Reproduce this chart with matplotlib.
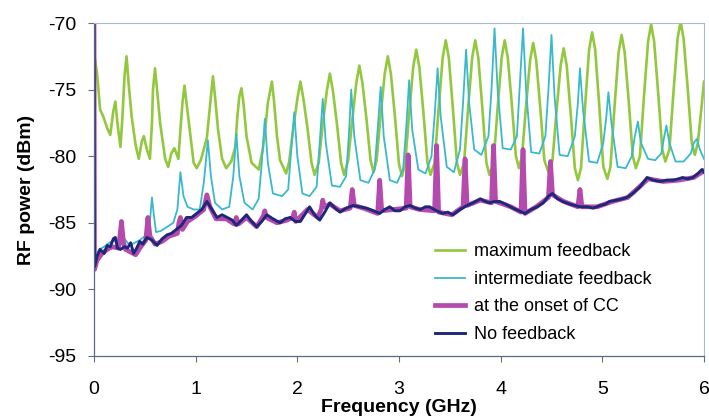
import matplotlib
matplotlib.use("Agg")
import matplotlib.pyplot as plt

plt.rcParams['font.family'] = ['Liberation Sans', 'DejaVu Sans']
plt.rcParams['axes.unicode_minus'] = False

# RF spectra (frequency in GHz, power in dBm)
max_f = [0.00, 0.03, 0.06, 0.09, 0.13, 0.16, 0.19, 0.21, 0.23, 0.26, 0.28, 0.30, 0.32, 0.34, 0.37,
         0.41, 0.44, 0.47, 0.49, 0.52, 0.55, 0.57, 0.58, 0.60, 0.62, 0.65, 0.70, 0.73, 0.76, 0.79,
         0.83, 0.85, 0.87, 0.89, 0.91, 0.94, 0.98, 1.01, 1.05, 1.09, 1.11, 1.14, 1.17, 1.19, 1.22,
         1.26, 1.30, 1.35, 1.39, 1.41, 1.43, 1.45, 1.47, 1.50, 1.55, 1.62, 1.66, 1.68, 1.71, 1.75,
         1.77, 1.80, 1.83,
         1.89, 1.92, 1.96, 2.00, 2.03, 2.06, 2.10, 2.14, 2.17, 2.21, 2.25, 2.29, 2.32, 2.35, 2.39,
         2.43, 2.46, 2.50, 2.54, 2.58, 2.61, 2.64, 2.68, 2.72, 2.75, 2.78, 2.82, 2.86, 2.89, 2.92,
         2.96, 3.00, 3.03, 3.06, 3.10, 3.14, 3.17, 3.20, 3.24, 3.28, 3.31, 3.35, 3.39, 3.43, 3.46,
         3.49, 3.53, 3.57, 3.60, 3.64, 3.68, 3.72, 3.75, 3.78, 3.82, 3.86, 3.89, 3.93, 3.97, 4.01,
         4.04, 4.07, 4.11, 4.15, 4.18, 4.21, 4.25, 4.29, 4.32, 4.35, 4.39, 4.43, 4.47, 4.51, 4.55,
         4.59, 4.62, 4.65, 4.69, 4.73, 4.76, 4.79, 4.83, 4.87, 4.90, 4.93, 4.97, 5.01, 5.05, 5.08,
         5.12, 5.16, 5.19, 5.22, 5.26, 5.30, 5.33, 5.37, 5.41, 5.45, 5.48, 5.51, 5.55, 5.59, 5.62,
         5.66, 5.70, 5.74, 5.77, 5.80, 5.84, 5.88, 5.91, 5.94, 5.98, 6.00]
max_db = [-72.2, -73.8, -76.5, -77.0, -77.9, -78.4, -76.6, -75.9, -77.5, -79.3, -77.0, -74.0, -72.5, -74.5, -77.0,
          -79.2, -80.2, -78.9, -78.5, -79.5, -80.2, -77.5, -75.0, -73.4, -75.0, -77.5, -80.2, -80.8, -79.8, -79.4,
          -80.2, -78.0, -76.0, -74.7, -76.0, -78.0, -80.5, -80.9, -80.3, -79.2, -78.6, -76.3, -74.0, -75.5, -78.0,
          -80.2, -80.9, -80.4, -79.3, -77.0, -75.5, -74.9, -76.0, -78.5, -80.5, -81.0, -79.5, -78.3, -76.0, -74.4,
          -75.8, -78.5, -80.3,
          -81.3, -80.4, -77.9, -75.7, -74.4, -75.7, -77.9, -80.5, -81.4, -80.5, -77.6, -75.1, -73.8, -75.1, -77.6,
          -80.5, -81.4, -80.3, -77.3, -74.5, -73.2, -74.5, -77.2, -80.3, -81.2, -80.3, -76.9, -73.8, -72.5, -73.8,
          -77.0, -80.6, -81.5, -80.6, -76.8, -73.3, -72.0, -73.3, -76.7, -80.5, -81.4, -80.5, -76.4, -72.6, -71.3,
          -72.6, -76.4, -80.5, -81.4, -80.5, -76.4, -72.6, -71.3, -72.6, -76.4, -80.5, -81.4, -80.5, -76.4, -72.6,
          -71.3, -72.6, -76.1, -80.0, -80.9, -80.0, -76.2, -72.8, -71.5, -72.8, -76.4, -80.3, -81.2, -80.3, -76.6,
          -73.2, -71.9, -73.2, -76.9, -80.9, -81.8, -80.9, -76.3, -72.0, -70.7, -72.0, -76.2, -80.8, -81.7, -80.8,
          -76.3, -72.2, -70.9, -72.2, -75.9, -80.0, -80.9, -80.0, -75.5, -71.4, -70.1, -71.4, -75.3, -79.5, -80.4,
          -79.5, -75.2, -71.2, -69.9, -71.2, -74.9, -79.0, -79.9, -79.0, -76.0, -74.4]

mid_f = [0.00, 0.05, 0.10, 0.15, 0.20, 0.25, 0.30, 0.35, 0.40, 0.45, 0.50, 0.54, 0.56, 0.57, 0.59,
         0.61, 0.66, 0.72, 0.78, 0.82, 0.85, 0.88, 0.92, 0.98, 1.04, 1.08, 1.12, 1.15, 1.19, 1.26,
         1.33, 1.37, 1.40, 1.43, 1.48, 1.56, 1.62, 1.65, 1.68, 1.71, 1.76, 1.85, 1.91, 1.94, 1.97,
         2.00, 2.05, 2.12, 2.19, 2.22, 2.25, 2.28, 2.34, 2.42, 2.48, 2.51, 2.53, 2.56, 2.62, 2.70,
         2.76, 2.79, 2.82, 2.85, 2.91, 2.98, 3.04, 3.07, 3.10, 3.13, 3.19, 3.26, 3.32, 3.35, 3.38,
         3.41, 3.47, 3.54, 3.60, 3.63, 3.66, 3.69, 3.74, 3.81, 3.88, 3.91, 3.94, 3.97, 4.02, 4.10,
         4.16, 4.19, 4.22, 4.25, 4.30, 4.38, 4.44, 4.47, 4.50, 4.53, 4.58, 4.66, 4.73, 4.76, 4.78,
         4.81, 4.87, 4.95, 5.01, 5.04, 5.06, 5.09, 5.15, 5.23, 5.29, 5.32, 5.35, 5.38, 5.45, 5.52,
         5.58, 5.61, 5.63, 5.66, 5.72, 5.80, 5.87, 5.90, 5.93, 5.96, 6.00]
mid_db = [-87.8, -87.0, -86.8, -86.5, -86.3, -86.8, -86.2, -86.7, -86.5, -86.3, -86.0, -85.8, -84.0, -83.1, -84.5,
          -85.7, -85.6, -85.3, -85.0, -84.0, -81.2, -83.0, -83.8, -84.0, -84.0, -82.0, -78.8, -81.5, -83.5, -84.0,
          -83.8, -81.5, -78.3, -81.5, -83.5, -84.0, -83.2, -80.5, -77.2, -80.5, -82.8, -83.0, -82.5, -79.5, -76.7,
          -80.0, -82.8, -83.0, -82.3, -79.0, -75.7, -79.0, -82.2, -82.3, -81.5, -78.0, -75.0, -78.5, -81.8, -82.0,
          -81.0, -78.0, -74.8, -78.5, -81.8, -82.0, -81.0, -78.0, -74.3, -78.0, -81.0, -81.3, -80.0, -77.0, -73.4,
          -77.0, -80.8, -81.2, -79.5, -76.0, -72.0, -76.0, -79.5, -79.9, -78.5, -75.0, -70.4, -75.0, -79.4, -79.5,
          -78.5, -74.5, -70.4, -75.0, -79.7, -79.8, -78.5, -75.0, -70.9, -75.5, -79.9, -80.0, -78.5, -76.0, -73.4,
          -76.5, -80.4, -80.5, -79.0, -77.0, -75.2, -77.5, -80.8, -80.9, -80.0, -78.5, -77.4, -79.0, -80.2, -80.3,
          -79.8, -78.5, -77.7, -79.0, -80.4, -80.4, -79.8, -79.0, -78.7, -79.5, -80.2]

cc_f = [0.00, 0.005, 0.03, 0.08, 0.13, 0.18, 0.24, 0.255, 0.27, 0.29, 0.31, 0.36, 0.41, 0.46, 0.51,
        0.53, 0.55, 0.60, 0.67, 0.74, 0.82, 0.835, 0.85, 0.87, 0.92, 1.00, 1.08, 1.11, 1.14, 1.20,
        1.30, 1.38, 1.40, 1.42, 1.50, 1.60, 1.665, 1.68, 1.695, 1.80, 1.90, 1.955, 1.97, 1.985, 2.10,
        2.20, 2.235, 2.25, 2.265, 2.32, 2.42, 2.52, 2.54, 2.56, 2.65, 2.79, 2.81, 2.83, 2.95, 3.07,
        3.09, 3.11, 3.20, 3.35, 3.37, 3.39, 3.52, 3.63, 3.65, 3.67, 3.80, 3.91, 3.93, 3.95, 4.10,
        4.20, 4.22, 4.24, 4.35, 4.47, 4.49, 4.51, 4.62, 4.76, 4.78, 4.80, 4.95, 5.10, 5.25, 5.38,
        5.45, 5.60, 5.75, 5.90, 6.00]
cc_db = [-70.0, -88.5, -87.8, -87.3, -87.0, -86.8, -86.9, -86.0, -84.9, -86.5, -87.0, -87.2, -87.4, -86.8, -86.3,
         -84.6, -86.0, -86.6, -86.4, -86.0, -85.8, -85.0, -84.6, -85.5, -84.9, -84.5, -84.0, -82.9, -83.8, -84.7,
         -84.7, -85.1, -84.6, -85.1, -84.6, -85.3, -84.5, -84.1, -84.6, -85.0, -84.8, -84.6, -84.2, -84.9, -84.0,
         -84.6, -84.0, -83.3, -83.8, -83.6, -84.1, -83.9, -82.5, -83.7, -83.9, -84.3, -81.8, -84.1, -84.0, -83.9,
         -79.9, -83.8, -84.0, -84.1, -79.2, -84.2, -84.4, -83.8, -80.2, -83.7, -83.3, -83.5, -79.2, -83.4, -83.8,
         -84.2, -79.5, -84.3, -83.8, -83.1, -80.4, -82.9, -83.4, -83.8, -82.5, -83.8, -83.8, -83.4, -83.1, -82.2,
         -81.7, -81.9, -81.8, -81.6, -81.1]

nofb_f = [0.00, 0.005, 0.03, 0.06, 0.10, 0.13, 0.16, 0.19, 0.21, 0.23, 0.26, 0.30, 0.33, 0.36, 0.39,
          0.42, 0.45, 0.48, 0.52, 0.57, 0.62, 0.67, 0.72, 0.76, 0.81, 0.86, 0.91, 0.96, 1.01, 1.06,
          1.11, 1.16, 1.21, 1.26, 1.31, 1.36, 1.40, 1.45, 1.50, 1.55, 1.60, 1.65, 1.70, 1.76, 1.83,
          1.88, 1.93, 1.98, 2.03, 2.08, 2.12, 2.17, 2.22, 2.27, 2.32, 2.37, 2.42, 2.48, 2.55, 2.61,
          2.68, 2.75, 2.81, 2.86, 2.91, 2.96, 3.01, 3.06, 3.11, 3.16, 3.21, 3.26, 3.30, 3.37, 3.43,
          3.48, 3.53, 3.60, 3.67, 3.73, 3.80, 3.85, 3.89, 3.94, 3.99, 4.05, 4.12, 4.18, 4.24, 4.30,
          4.36, 4.42, 4.47, 4.51, 4.56, 4.61, 4.68, 4.73, 4.78, 4.85, 4.91, 4.98, 5.03, 5.07, 5.14,
          5.20, 5.24, 5.30, 5.37, 5.41, 5.44, 5.50, 5.57, 5.63, 5.70, 5.75, 5.79, 5.84, 5.89, 5.94,
          5.98, 6.00]
nofb_db = [-70.0, -88.3, -87.5, -87.0, -87.3, -86.7, -86.8, -86.2, -86.1, -86.9, -87.0, -86.8, -86.9, -86.5, -87.3,
           -86.9, -86.4, -86.6, -86.1, -86.3, -86.7, -86.2, -85.9, -85.8, -85.5, -85.2, -84.6, -84.6, -84.3, -84.0,
           -83.4, -84.0, -84.6, -84.4, -84.6, -84.8, -85.2, -84.8, -84.4, -84.9, -85.3, -84.9, -84.4, -84.7, -85.0,
           -84.7, -84.6, -84.9, -84.9, -84.3, -83.8, -84.4, -84.8, -84.2, -83.5, -83.9, -84.2, -83.9, -83.7, -83.8,
           -83.9, -84.1, -84.3, -84.0, -83.8, -84.1, -84.1, -83.8, -83.7, -83.9, -84.0, -83.8, -83.8, -84.1, -84.3,
           -84.2, -84.4, -84.0, -83.7, -83.5, -83.2, -83.4, -83.5, -83.4, -83.4, -83.6, -83.9, -84.1, -84.3, -84.0,
           -83.8, -83.5, -83.0, -82.8, -83.2, -83.4, -83.6, -83.7, -83.8, -83.8, -83.9, -83.7, -83.6, -83.4, -83.3,
           -83.2, -83.1, -82.8, -82.3, -81.9, -81.6, -81.8, -81.9, -81.8, -81.8, -81.7, -81.6, -81.7, -81.6, -81.3,
           -81.0, -81.2]

labels = ['maximum feedback', 'intermediate feedback', 'at the onset of CC', 'No feedback']
x_ticks = [0, 1, 2, 3, 4, 5, 6]
y_ticks = [-95, -90, -85, -80, -75, -70]

fig = plt.figure(figsize=(7.09, 4.19), dpi=100)
ax = fig.add_axes([0.1326, 0.1504, 0.8603, 0.7947])

ax.plot(max_f, max_db, color='#93c83e', lw=1.9, label=labels[0])
ax.plot(mid_f, mid_db, color='#3ab8cc', lw=1.3, label=labels[1])
ax.plot(cc_f, cc_db, color='#b54aae', lw=3.4, label=labels[2])
ax.plot(nofb_f, nofb_db, color='#1e2878', lw=2.1, label=labels[3])

ax.set_xlim(0, 6)
ax.set_ylim(-95, -70)
ax.set_xticks(x_ticks)
ax.set_yticks(y_ticks)
ax.tick_params(direction='out', length=4, width=0.8, color='#607080', labelsize=14)
ax.tick_params(axis='x', pad=14)
ax.tick_params(axis='y', pad=9)

for side in ['left', 'bottom']:
    ax.spines[side].set_color('#5a6a7e')
    ax.spines[side].set_linewidth(0.9)
for side in ['top', 'right']:
    ax.spines[side].set_color('#a8bccc')
    ax.spines[side].set_linewidth(0.8)

ax.set_xlabel('Frequency (GHz)', fontsize=14, fontweight='bold', labelpad=1)
ax.set_ylabel('RF power (dBm)', fontsize=14, fontweight='bold', labelpad=9)

ax.legend(loc='upper left', bbox_to_anchor=(0.559, 0.338), frameon=False, fontsize=13,
          handlelength=1.65, handletextpad=0.5, labelspacing=0.58, borderpad=0, borderaxespad=0)

fig.savefig('out.png', dpi=100)
